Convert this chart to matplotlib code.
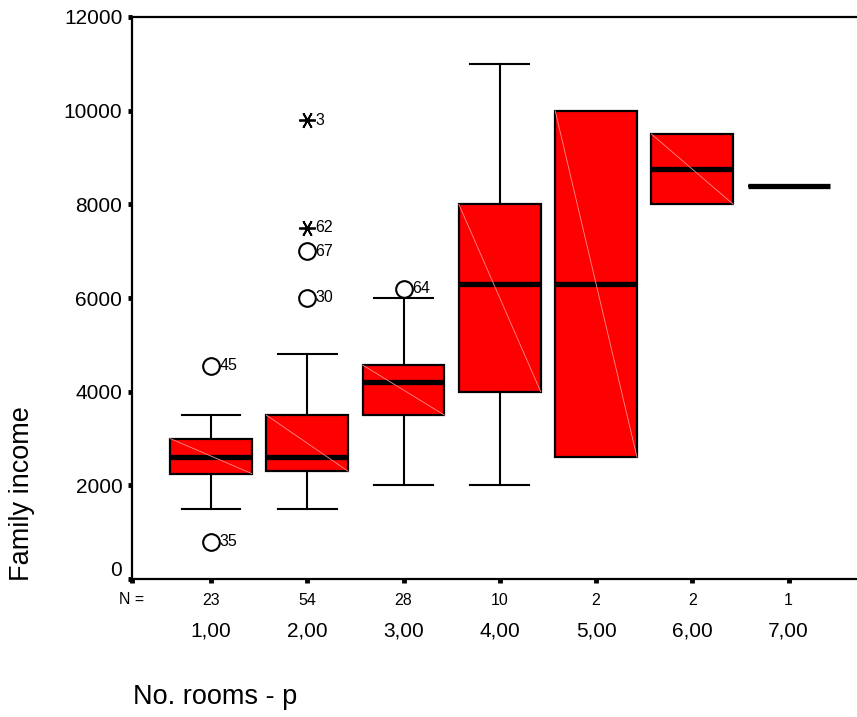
import matplotlib
matplotlib.use("Agg")
import matplotlib.pyplot as plt
import matplotlib.transforms as mtransforms

plt.rcParams['font.family'] = ['Liberation Sans', 'DejaVu Sans']

# ---- data ----
categories = ["1,00", "2,00", "3,00", "4,00", "5,00", "6,00", "7,00"]
n_counts = [23, 54, 28, 10, 2, 2, 1]
whis_lo = [1500, 1500, 2000, 2000, 2600, 8000, 8400]
q1 = [2250, 2300, 3500, 4000, 2600, 8000, 8400]
medians = [2600, 2600, 4200, 6300, 6300, 8750, 8400]
q3 = [3000, 3500, 4570, 8000, 10000, 9500, 8400]
whis_hi = [3500, 4800, 6000, 11000, 10000, 9500, 8400]
# outliers: (group index, value, case label, extreme?)
outlier_group = [1, 1, 2, 2, 2, 2, 3]
outlier_value = [4550, 800, 9800, 7500, 7000, 6000, 6200]
outlier_label = ["45", "35", "3", "62", "67", "30", "64"]
outlier_extreme = [False, False, True, True, False, False, False]
y_ticks = [0, 2000, 4000, 6000, 8000, 10000, 12000]

fig = plt.figure(figsize=(8.57, 7.17), dpi=100)
ax = fig.add_axes([132/857, (717-579)/717, 1 - 132/857, (579-17)/717])

positions = list(range(1, len(categories) + 1))
stats = []
for i in range(len(categories)):
    stats.append(dict(med=medians[i], q1=q1[i], q3=q3[i],
                      whislo=whis_lo[i], whishi=whis_hi[i], fliers=[]))

has_whisk = [whis_lo[i] < q1[i] or whis_hi[i] > q3[i] for i in range(len(categories))]
box_w = 0.85
bp = ax.bxp(stats, positions=positions, widths=box_w, patch_artist=True,
            showfliers=False, capwidths=0.61,
            boxprops=dict(facecolor='#ff0000', edgecolor='black', linewidth=1.6),
            medianprops=dict(color='black', linewidth=3.8, solid_capstyle='butt'),
            whiskerprops=dict(color='black', linewidth=1.5),
            capprops=dict(color='black', linewidth=1.5))
for i in range(len(categories)):
    if not has_whisk[i]:
        bp['caps'][2*i].set_visible(False)
        bp['caps'][2*i+1].set_visible(False)
        bp['whiskers'][2*i].set_visible(False)
        bp['whiskers'][2*i+1].set_visible(False)

# faint diagonal rendering artifact inside boxes
for i, p in enumerate(positions):
    if q3[i] > q1[i]:
        ax.plot([p - box_w/2, p + box_w/2], [q3[i], q1[i]], color='#ff8c8c',
                lw=0.6, zorder=2.5)

# outliers
for g, v, lab, ext in zip(outlier_group, outlier_value, outlier_label, outlier_extreme):
    if ext:
        ax.plot(g, v, marker=(6, 2, 90), markersize=12, color='black',
                mew=1.3, linestyle='none', zorder=4)
    else:
        ax.plot(g, v, marker='o', markersize=12, mfc='white', mec='black',
                mew=1.5, linestyle='none', zorder=4)
    ax.annotate(lab, (g, v), xytext=(6, 0), textcoords='offset points',
                fontsize=11.5, va='center', ha='left', zorder=5)

ax.set_xlim(0.18, 7.71)
ax.set_ylim(0, 12000)

ax.spines['right'].set_visible(False)
for s in ['left', 'bottom', 'top']:
    ax.spines[s].set_linewidth(1.6)

ax.set_yticks(y_ticks)
ax.set_yticklabels([str(t) for t in y_ticks], fontsize=15)
ax.set_xticks([0.18] + positions)
ax.set_xticklabels([""] + [str(n) for n in n_counts], fontsize=11.5)
ax.tick_params(axis='both', direction='out', length=3, width=3.5)
ax.tick_params(axis='y', pad=4)
ax.tick_params(axis='x', pad=7)

# shift "0" label up
lbl0 = ax.get_yticklabels()[0]
lbl0.set_transform(lbl0.get_transform() + mtransforms.ScaledTranslation(0, 10/100, fig.dpi_scale_trans))

ax.text(0.18, -0.036, "N =", transform=mtransforms.blended_transform_factory(ax.transData, ax.transAxes),
        ha='center', va='center', fontsize=11.5)
for p, c in zip(positions, categories):
    ax.text(p, -0.093, c, transform=mtransforms.blended_transform_factory(ax.transData, ax.transAxes),
            ha='center', va='center', fontsize=15)

fig.text(22/857, 1 - 494/717, "Family income", rotation=90, ha='center', va='center', fontsize=19.5)
fig.text(133/857, 1 - 697/717, "No. rooms - p", ha='left', va='center', fontsize=19.5)

fig.savefig("out.png", dpi=100)
